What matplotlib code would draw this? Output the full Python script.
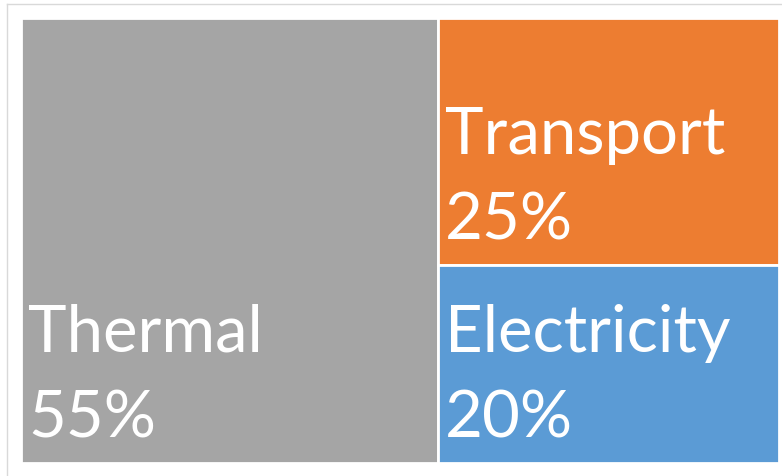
import matplotlib.pyplot as plt
from matplotlib.patches import Rectangle
from matplotlib.lines import Line2D

# treemap data
labels = ["Thermal", "Transport", "Electricity"]
shares = [55, 25, 20]
colors = ["#a5a5a5", "#ed7d31", "#5b9bd5"]

W, H = 782, 476
fig = plt.figure(figsize=(W / 100, H / 100), dpi=100)
fig.patch.set_facecolor("white")

# plot area in pixels
left, top, right, bottom = 21, 18, 779, 463
ax = fig.add_axes([left / W, 1 - bottom / H, (right - left) / W, (bottom - top) / H])
ax.set_xlim(0, 1)
ax.set_ylim(0, 1)
ax.axis("off")

# layout: first item takes a full-height column, the rest stack in the remaining column
total = sum(shares)
rects = []
w0 = shares[0] / total
rects.append((0, 0, w0, 1))
rest = sum(shares[1:])
y = 1.0
for s in shares[1:]:
    h = s / rest
    y -= h
    rects.append((w0, y, 1 - w0, h))

px = 72 / 100  # pixels -> points
for (x0, y0, w, h), lab, s, c in zip(rects, labels, shares, colors):
    ax.add_patch(Rectangle((x0, y0), w, h, facecolor=c, edgecolor="white", lw=2))
    ax.annotate(f"{s}%", xy=(x0, y0), xytext=(7 * px, 26 * px), textcoords="offset points",
                ha="left", va="baseline", color="white", fontsize=47, family="Lato")
    ax.annotate(lab, xy=(x0, y0), xytext=(7 * px, 111 * px), textcoords="offset points",
                ha="left", va="baseline", color="white", fontsize=47, family="Lato")

# outer chart border (cropped at right and bottom)
fig.add_artist(Line2D([7 / W, 1], [1 - 4 / H, 1 - 4 / H], color="#d9d9d9", lw=1, transform=fig.transFigure))
fig.add_artist(Line2D([7 / W, 7 / W], [1 - 4 / H, 0], color="#d9d9d9", lw=1, transform=fig.transFigure))

fig.savefig("out.png", dpi=100)
